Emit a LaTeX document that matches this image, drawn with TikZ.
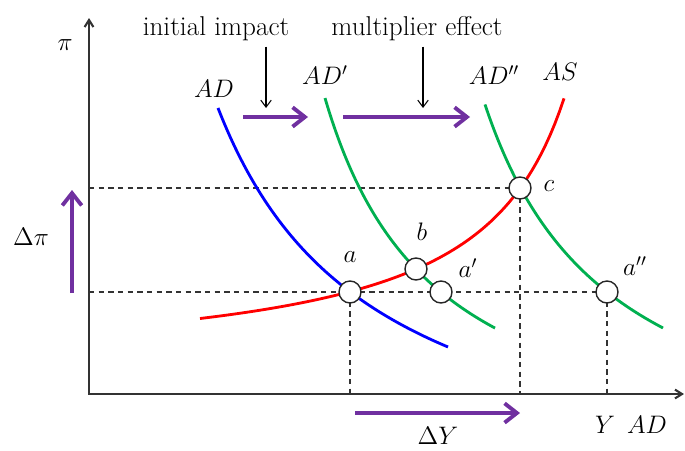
\documentclass[tikz,border=0pt]{standalone}
\usepackage{tikz}
\usetikzlibrary{positioning,arrows.meta}
\definecolor{adblue}{HTML}{0000FF}
\definecolor{adgreen}{HTML}{00B050}
\definecolor{asred}{HTML}{FF0000}
\definecolor{shiftcol}{HTML}{7030A0}
\definecolor{axiscol}{HTML}{333333}
\tikzset{
  axisline/.style={draw=axiscol, line width=1.2pt},
  guide/.style={draw=axiscol, dash pattern=on 3pt off 2.5pt, line width=0.6pt},
  demandline/.style={line width=1.6pt, samples=80},
  shiftarrow/.style={draw=shiftcol, line width=2.2pt, -{Straight Barb[length=7pt,width=11pt]}},
  pointer/.style={line width=0.6pt, -{Straight Barb[length=4pt,width=6pt]}},
  eqpt/.style={circle, draw=black!85, fill=white, line width=0.8pt, minimum size=0.44cm, inner sep=0pt}
}

\begin{document}
\begin{tikzpicture}[x=0.02cm, y=-0.02cm, every node/.style={font=\fontsize{14.5}{17}\selectfont}]
  \useasboundingbox (0,0) rectangle (685,450);
  % axes
  \coordinate (O) at (89,394);
  \coordinate (ytop) at (89,18);
  \coordinate (xend) at (684,394);
  \draw[axisline, {Straight Barb[length=4pt,width=5pt]}-{Straight Barb[length=4pt,width=5pt]}] (ytop) -- (O) -- (xend);
  % equilibria
  \coordinate (pa) at (350,292);
  \coordinate (pb) at (416,269);
  \coordinate (pa1) at (441,292);
  \coordinate (pc) at (520,188);
  \coordinate (pa2) at (607,292);
  \coordinate (ya) at (O |- pa);
  \coordinate (yc) at (O |- pc);
  \coordinate (xa) at (pa |- O);
  \coordinate (xc) at (pc |- O);
  \coordinate (xa2) at (pa2 |- O);
  \draw[guide] (yc) -- (pc);
  \draw[guide] (ya) -- (pa2);
  \draw[guide] (pa) -- (xa);
  \draw[guide] (pc) -- (xc);
  \draw[guide] (pa2) -- (xa2);
  % curves
  \draw[demandline, adblue] plot[domain=218:448] (\x, {509.6-628.54/((\x-61.5)/100)});
  \draw[demandline, adgreen] plot[domain=325:495] (\x, {479.6-427.34/((\x-213)/100)});
  \draw[demandline, adgreen] plot[domain=485:663] (\x, {488.8-492.3/((\x-356.9)/100)});
  \draw[demandline, asred] plot[domain=200:564] (\x, {373-247.45/((654.1-\x)/100)});
  \node[eqpt] (a) at (pa) {};
  \node[eqpt] (b) at (pb) {};
  \node[eqpt] (a1) at (pa1) {};
  \node[eqpt] (c) at (pc) {};
  \node[eqpt] (a2) at (pa2) {};
  % labels
  \node (pi) at (65,45) {$\pi$};
  \node (dpi) at (31,237) {$\Delta\pi$};
  \node (lAD) at (214,89) {$AD$};
  \node (lAD1) at (325,75) {$AD'$};
  \node (lAD2) at (494,75) {$AD''$};
  \node (lAS) at (560,72) {$AS$};
  \node (la) at (350,257) {$a$};
  \node (lb) at (422,232) {$b$};
  \node (la1) at (468,268) {$a'$};
  \node (lc) at (549,186) {$c$};
  \node (la2) at (635,266) {$a''$};
  \node (lY) at (605,425) {$Y$};
  \node (lYAD) at (647,425) {$AD$};
  \node (dY) at (438,436) {$\Delta Y$};
  \node[anchor=base, font=\fontsize{15.5}{18}\selectfont] (impact) at (216,35) {initial impact};
  \node[anchor=base, font=\fontsize{15.5}{18}\selectfont] (mult) at (417,35) {multiplier effect};
  % pointers and shifts
  \coordinate (impacttip) at (266,108);
  \coordinate (multtip) at (423,108);
  \draw[pointer] (impact.south -| impacttip) -- (impacttip);
  \draw[pointer] (mult.south -| multtip) -- (multtip);
  \coordinate (s1a) at (243,117);
  \coordinate (s1b) at (308,117);
  \coordinate (s2a) at (343,117);
  \coordinate (s2b) at (470,117);
  \coordinate (dya) at (355,413);
  \coordinate (dyb) at (520,413);
  \coordinate (dpia) at (72,293);
  \coordinate (dpib) at (72,190);
  \draw[shiftarrow] (s1a) -- (s1b);
  \draw[shiftarrow] (s2a) -- (s2b);
  \draw[shiftarrow] (dya) -- (dyb);
  \draw[shiftarrow] (dpia) -- (dpib);
\end{tikzpicture}
\end{document}
